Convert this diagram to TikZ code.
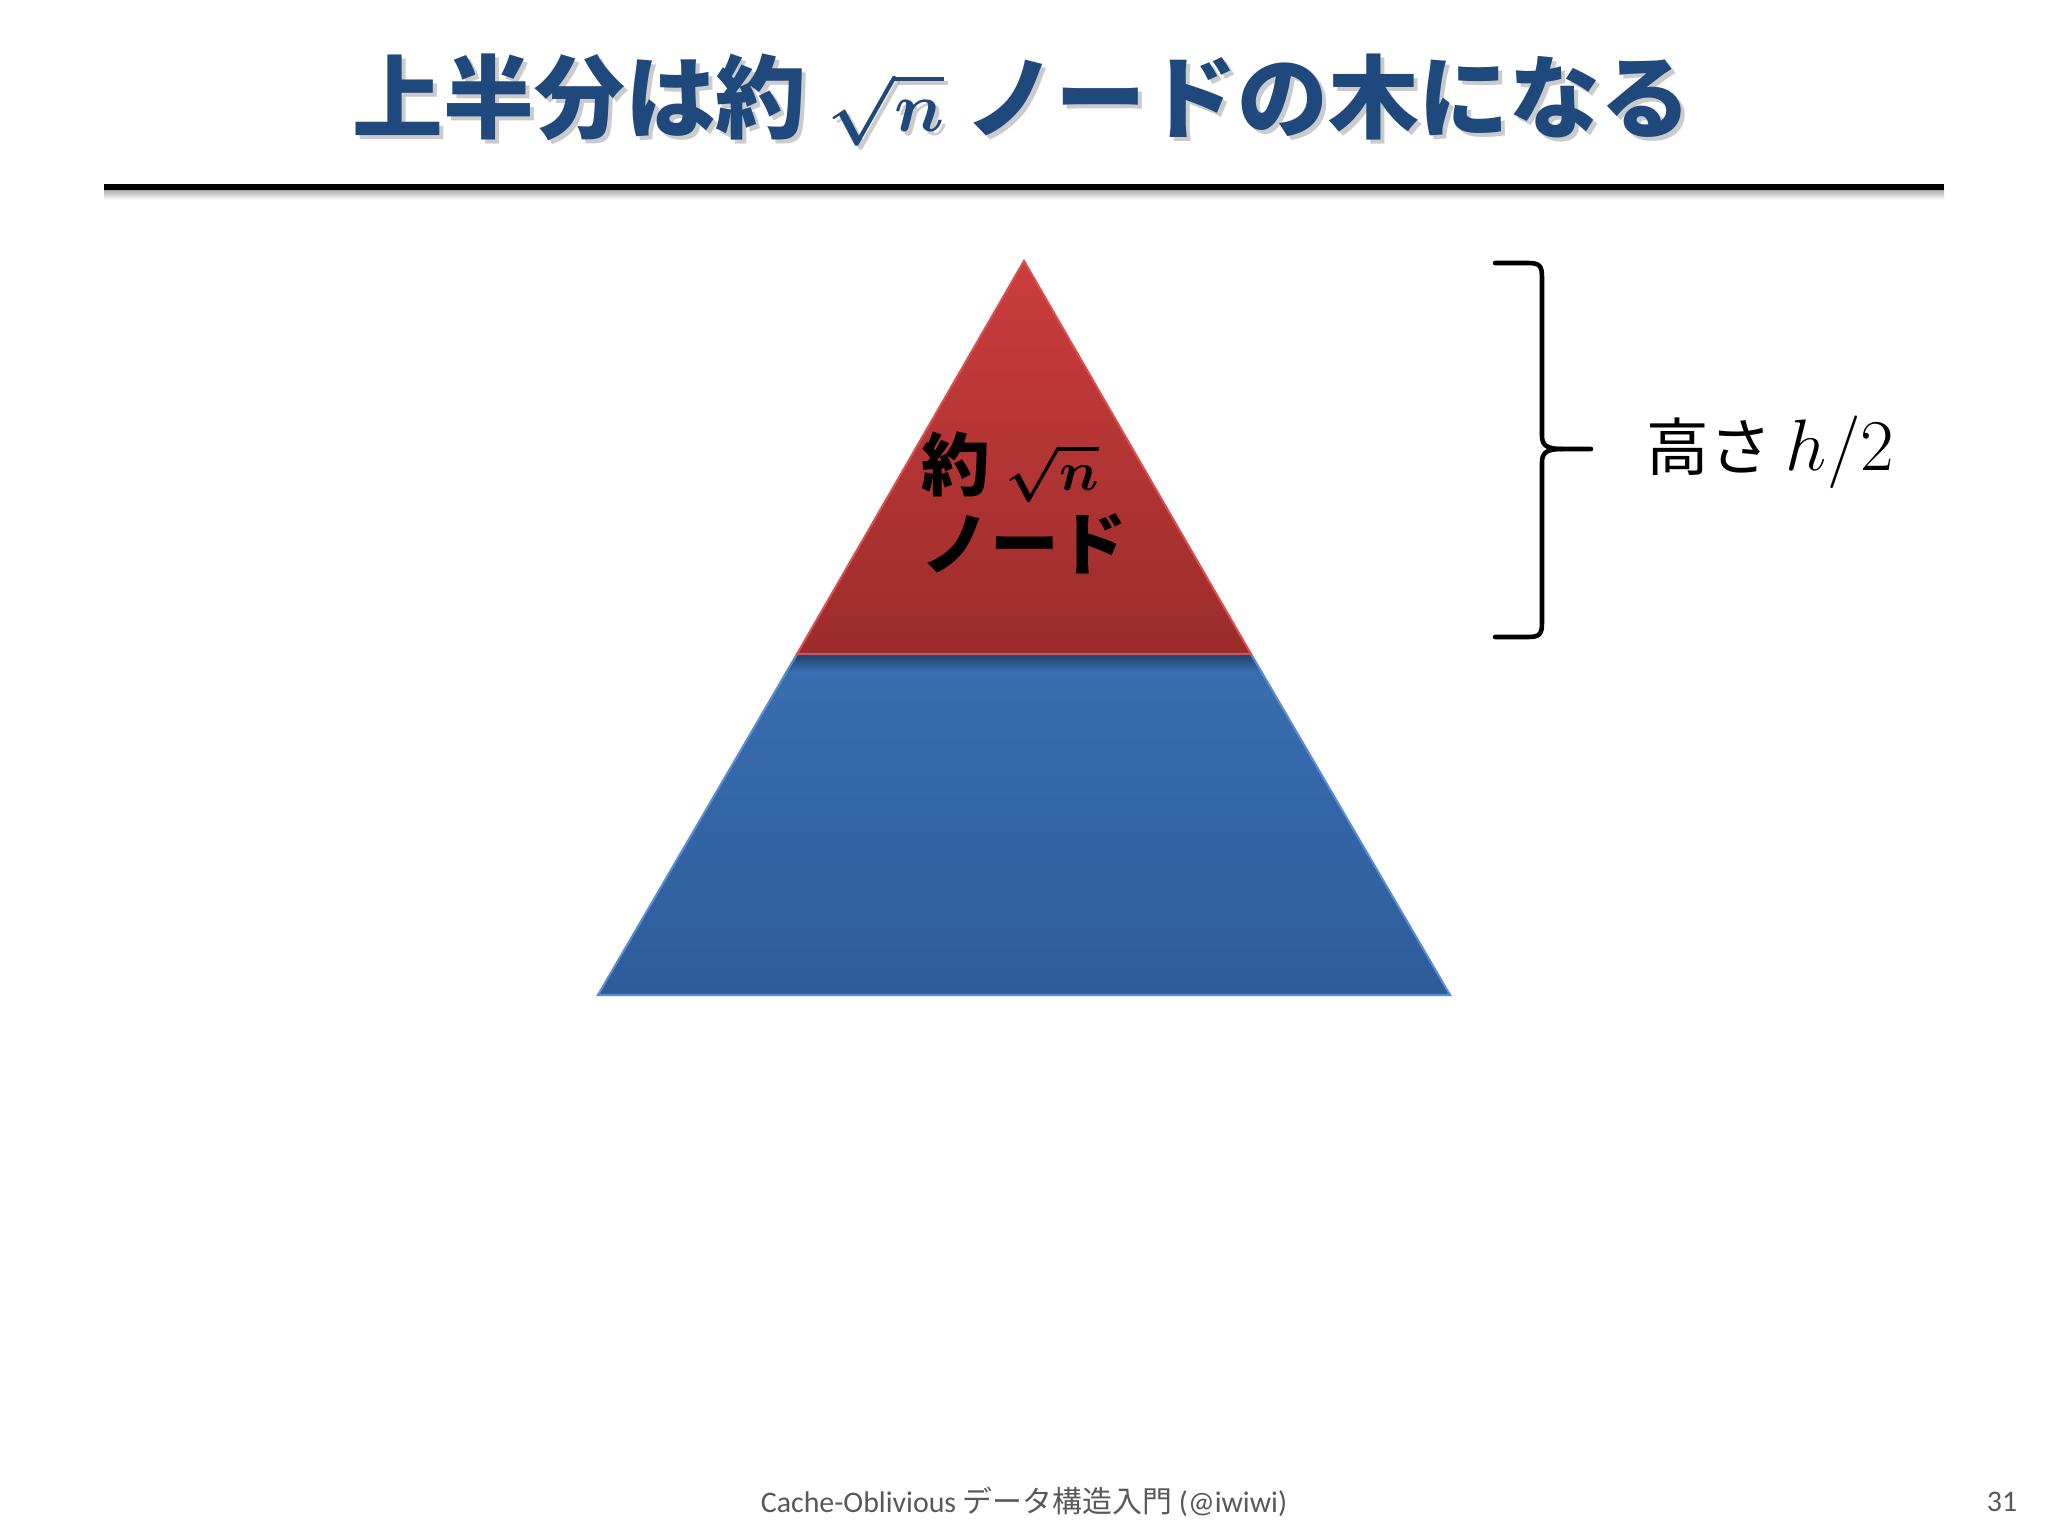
\documentclass[tikz,border=0pt]{standalone}
\usepackage{fontspec}
\setmainfont{Carlito}
\newfontfamily\jp{Noto Sans CJK JP}
\usepackage{amsmath}
\definecolor{titleblue}{RGB}{31,73,125}
\definecolor{redtop}{RGB}{204,60,60}
\definecolor{redbot}{RGB}{155,44,44}
\definecolor{rededge}{RGB}{214,80,80}
\definecolor{bluetop}{RGB}{56,110,178}
\definecolor{bluebot}{RGB}{45,92,154}
\definecolor{blueedge}{RGB}{90,140,205}
\definecolor{footgray}{RGB}{89,89,89}
\newcommand{\bsqn}[1]{\scalebox{#1}{$\boldsymbol{\sqrt{n}}$}}
\tikzset{
  titletext/.style={font=\jp\bfseries\fontsize{25.8}{30}\selectfont, inner sep=0pt},
  inlabel/.style={font=\jp\bfseries\fontsize{19.5}{22.5}\selectfont, align=left, anchor=west, inner sep=0pt},
  sidelabel/.style={font=\jp\fontsize{17.8}{20}\selectfont, anchor=west, inner sep=0pt},
  foot/.style={font=\fontsize{8.5}{10}\selectfont, text=footgray, inner sep=0pt},
  bracestroke/.style={line width=1.3pt, line cap=round, line join=round}
}
\begin{document}
\begin{tikzpicture}[x=0.01cm,y=-0.01cm]
\useasboundingbox (0,0) rectangle (2048,1536);
\fill[white] (0,0) rectangle (2048,1536);

% title with shadow
\node[titletext, text=black!40, opacity=0.5] (titleshadow) at (1026,104) {上半分は約 \bsqn{0.8} ノードの木になる};
\node[titletext, text=titleblue] (title) at (1022,100) {上半分は約 \bsqn{0.8} ノードの木になる};

% rule with shadow
\shade[top color=black!35, bottom color=white] (104,189) rectangle (1944,200);
\draw[line width=1.7pt] (104,187) -- (1944,187);

% triangle coordinates
\coordinate (apex) at (1024,261);
\coordinate (ml) at (797,654);
\coordinate (mr) at (1251,654);
\coordinate (bl) at (598,995);
\coordinate (br) at (1450,995);

% blue lower part
\shade[top color=bluetop, bottom color=bluebot] (ml) -- (mr) -- (br) -- (bl) -- cycle;
\begin{scope}
  \clip (ml) -- (mr) -- (br) -- (bl) -- cycle;
  \shade[top color=bluebot!70!black, bottom color=bluetop] (590,654) rectangle (1460,672);
\end{scope}
\draw[blueedge, line width=0.6pt] (ml) -- (bl) -- (br) -- (mr);

% red upper part
\shade[top color=redtop, bottom color=redbot] (apex) -- (mr) -- (ml) -- cycle;
\draw[rededge, line width=0.6pt] (apex) -- (mr) -- (ml) -- cycle;

\node[inlabel] (toplabel) at (921,503) {約 \bsqn{0.76}\\ノード};

% brace
\coordinate (bt) at (1495,263);
\coordinate (bb) at (1495,637);
\coordinate (tip) at (1591,449);
\draw[bracestroke] (bt) -- (1528,263) .. controls (1540,263) and (1542,266) .. (1542,278)
  -- (1542,436) .. controls (1542,446) and (1548,449) .. (1562,449) -- (tip);
\draw[bracestroke] (bb) -- (1528,637) .. controls (1540,637) and (1542,634) .. (1542,622)
  -- (1542,462) .. controls (1542,452) and (1548,449) .. (1562,449);

\node[sidelabel] (height) at (1646,452) {高さ \scalebox{1.2}{$h/2$}};

% footer
\node[foot] (footer) at (1024,1502) {Cache-Oblivious {\jp データ構造入門} (@iwiwi)};
\node[foot] (page) at (2002,1502) {31};
\end{tikzpicture}
\end{document}
